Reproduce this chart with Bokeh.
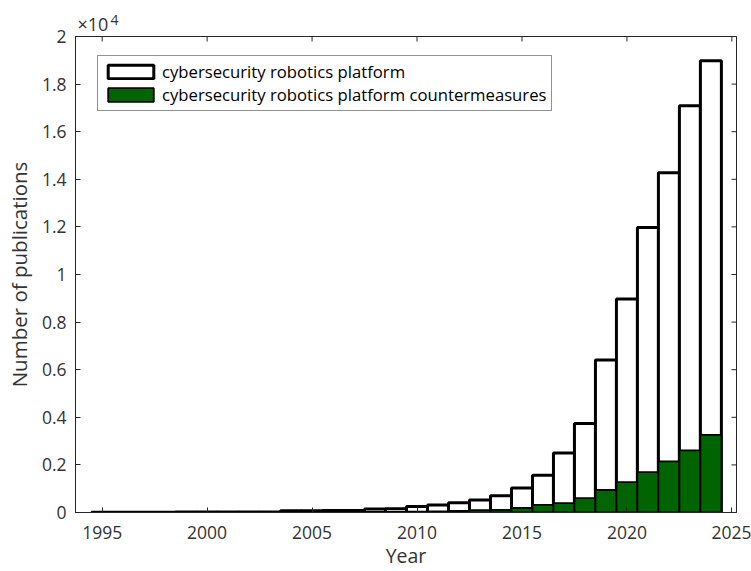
import math
from bokeh.plotting import figure
from bokeh.models import (Range1d, FixedTicker, Legend, LegendItem, CustomJSTickFormatter,
                          ColumnDataSource, Label)
from bokeh.embed import file_html
from bokeh.resources import INLINE

# ---- data ----
years = list(range(1995, 2025))
platform = [15, 15, 15, 15, 20, 20, 20, 20, 25, 70, 75, 80, 85, 150, 160,
            250, 315, 410, 520, 705, 1030, 1560, 2500, 3740, 6410, 8970,
            11980, 14280, 17090, 18980]
countermeasures = [2, 2, 2, 2, 3, 3, 3, 3, 4, 8, 8, 10, 10, 15, 20,
                   40, 50, 70, 100, 110, 190, 320, 390, 600, 945, 1280,
                   1700, 2150, 2610, 3260]
x_tick_values = [1995, 2000, 2005, 2010, 2015, 2020, 2025]
y_tick_values = [0, 2000, 4000, 6000, 8000, 10000, 12000, 14000, 16000, 18000, 20000]
series_labels = ["cybersecurity robotics platform",
                 "cybersecurity robotics platform countermeasures"]
x_label = "Year"
y_label = "Number of publications"
exponent_base = "\u00d710"
exponent_power = "4"

FONT = "Open Sans"
AX = "#262626"
TXT = "#333333"
GREEN = "#006400"

x0, x1 = 1993.73, 2025.22
y0, y1 = 0, 20000
p = figure(width=751, height=571, x_range=Range1d(x0, x1), y_range=Range1d(y0, y1),
           output_backend="svg", toolbar_location=None,
           min_border_left=75, min_border_right=15, min_border_top=36, min_border_bottom=58)
p.grid.visible = False
p.outline_line_color = AX
p.outline_line_width = 1
p.background_fill_color = "white"
p.border_fill_color = "white"

src = ColumnDataSource(dict(year=years, total=platform, counter=countermeasures))
r1 = p.vbar(x="year", top="total", width=1.0, bottom=0, source=src,
            fill_color="white", line_color="black", line_width=3)
r2 = p.vbar(x="year", top="counter", width=1.0, bottom=0, source=src,
            fill_color=GREEN, line_color="black", line_width=1.8)

# inward ticks on the top and right edges of the box (half of each dash is clipped by the frame)
p.scatter(x=x_tick_values, y=[y1] * len(x_tick_values), marker="dash", angle=math.pi / 2,
          size=10, line_color=AX, line_width=1)
p.scatter(x=[x1] * len(y_tick_values), y=y_tick_values, marker="dash",
          size=10, line_color=AX, line_width=1)

for ax in (p.xaxis[0], p.yaxis[0]):
    ax.axis_line_color = AX
    ax.axis_line_width = 1
    ax.major_tick_line_color = AX
    ax.major_tick_in = 5
    ax.major_tick_out = 0
    ax.minor_tick_line_color = None
    ax.major_label_text_font = FONT
    ax.major_label_text_color = TXT
    ax.major_label_text_font_size = "17.5px"
    ax.axis_label_text_font = FONT
    ax.axis_label_text_font_style = "normal"
    ax.axis_label_text_color = TXT

xa = p.xaxis[0]
xa.ticker = FixedTicker(ticks=x_tick_values)
xa.major_label_standoff = 13
xa.axis_label = x_label
xa.axis_label_text_font_size = "19.5px"
xa.axis_label_standoff = 0

ya = p.yaxis[0]
ya.ticker = FixedTicker(ticks=y_tick_values)
ya.formatter = CustomJSTickFormatter(code="return (tick/10000).toString();")
ya.major_label_standoff = 9
ya.axis_label = y_label
ya.axis_label_text_font_size = "20.5px"
ya.axis_label_standoff = 6

# axis multiplier, drawn in the panels above the frame (first panel sits next to the frame)
p.add_layout(Label(x=35, y=17, x_units="screen", y_units="screen", text=exponent_power,
                   text_align="left", text_baseline="alphabetic", text_font=FONT,
                   text_font_size="14px", text_color=TXT), "above")
p.add_layout(Label(x=2, y=3, x_units="screen", y_units="screen", text=exponent_base,
                   text_align="left", text_baseline="alphabetic", text_font=FONT,
                   text_font_size="18px", text_color=TXT), "above")

legend = Legend(items=[LegendItem(label=series_labels[0], renderers=[r1]),
                       LegendItem(label=series_labels[1], renderers=[r2])],
                location=(22, 401), glyph_width=57, glyph_height=17, label_height=17,
                spacing=0, padding=4, margin=0, label_standoff=3,
                label_text_font=FONT, label_text_font_size="16.7px", label_text_color="black",
                border_line_color=AX, border_line_width=1,
                background_fill_color="white", background_fill_alpha=1.0)
p.add_layout(legend)

open("out.html", "w").write(file_html(p, INLINE))
